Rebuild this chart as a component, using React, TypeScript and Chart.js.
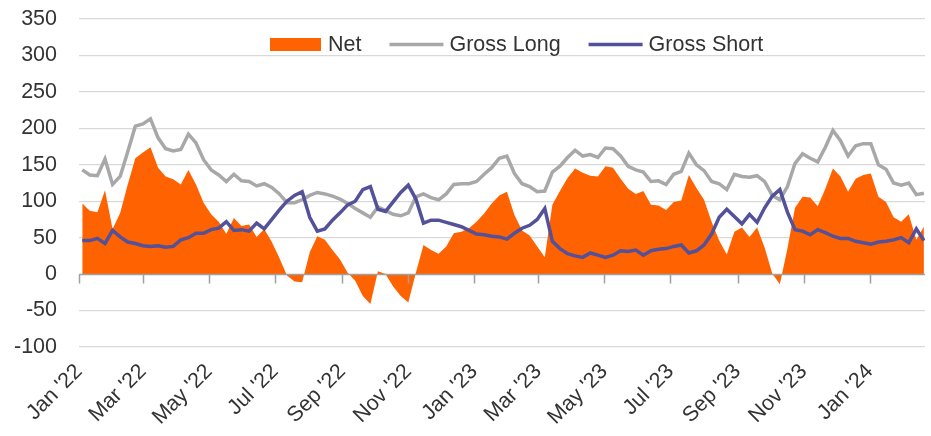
import { useEffect, useRef } from "react";
import { Chart, registerables } from "chart.js";

Chart.register(...registerables);

// Weekly positioning data (weekly reports, Tuesdays), 4 Jan 2022 – 20 Feb 2024
const FIRST_DAY = 3; // days after 1 Jan 2022 of the first weekly observation (4 Jan 2022)
const X_MAX_DAY = 781;

const grossLong: number[] = [
  143, 136, 135, 158, 123, 134, 168, 203, 206, 213, 187, 172, 169, 171, 192, 180, 157, 143, 136, 127,
  137, 128, 127, 121, 124, 119, 110, 98, 98, 102, 108, 112, 110, 107, 103, 97, 90, 84, 78, 92,
  87, 82, 80, 84, 106, 110, 105, 102, 110, 123, 124, 124, 127, 137, 146, 159, 162, 138, 124, 120,
  113, 114, 140, 148, 160, 170, 162, 164, 160, 173, 172, 162, 148, 143, 140, 127, 128, 123, 137, 141,
  166, 150, 142, 127, 124, 116, 137, 134, 133, 135, 127, 108, 102, 120, 152, 165, 159, 154, 174, 197,
  183, 162, 176, 179, 179, 150, 144, 125, 122, 125, 109, 111,
];

const grossShort: number[] = [
  46, 46, 49, 42, 60, 51, 44, 42, 39, 38, 39, 37, 38, 47, 50, 56, 56, 61, 63, 72,
  60, 61, 59, 70, 62, 75, 88, 100, 108, 113, 78, 59, 62, 74, 84, 95, 100, 116, 120, 89,
  86, 99, 112, 122, 103, 70, 74, 74, 71, 68, 65, 60, 55, 54, 52, 51, 48, 56, 63, 67,
  75, 90, 45, 35, 28, 25, 23, 29, 26, 23, 26, 32, 31, 33, 26, 32, 34, 35, 38, 40,
  29, 32, 40, 55, 78, 89, 79, 69, 82, 71, 91, 107, 116, 85, 61, 59, 54, 61, 57, 52,
  49, 49, 45, 43, 41, 44, 45, 47, 50, 43, 62, 46,
];

const net: number[] = [
  97, 87, 85, 115, 62, 84, 123, 159, 167, 174, 146, 134, 130, 123, 143, 123, 98, 82, 72, 55,
  77, 66, 68, 51, 62, 44, 22, -2, -10, -11, 30, 52, 47, 33, 20, 2, -9, -30, -41, 4,
  0, -17, -30, -39, 2, 40, 33, 28, 38, 56, 58, 63, 72, 83, 97, 108, 113, 81, 60, 53,
  38, 23, 95, 114, 132, 145, 139, 135, 134, 148, 146, 131, 117, 110, 114, 95, 94, 88, 99, 101,
  136, 118, 102, 72, 46, 27, 58, 64, 51, 64, 36, 1, -14, 35, 91, 106, 105, 93, 117, 145,
  134, 113, 131, 136, 138, 106, 99, 78, 72, 82, 47, 65,
];

// x-axis ticks: first day of every other month (days after 1 Jan 2022)
const tickDays: number[] = [0, 59, 120, 181, 243, 304, 365, 424, 485, 546, 608, 669, 730];
const tickLabels: string[] = [
  "Jan '22", "Mar '22", "May '22", "Jul '22", "Sep '22", "Nov '22",
  "Jan '23", "Mar '23", "May '23", "Jul '23", "Sep '23", "Nov '23", "Jan '24",
];

const yTickMin = -100;
const yTickMax = 350;
const yTickStep = 50;

const ORANGE = "#FF6200";
const GREY = "#A8A8A8";
const INDIGO = "#525199";
const TEXT = "#333333";
const FONT = "'Liberation Sans', Arial, sans-serif";
const FONT_SIZE = 21.5;

const weekDays = grossLong.map((_, i) => FIRST_DAY + 7 * i);
const toPoints = (vals: number[]) => vals.map((v, i) => ({ x: weekDays[i], y: v }));

const legendItems = [
  { label: "Net", color: ORANGE, kind: "box" },
  { label: "Gross Long", color: GREY, kind: "line" },
  { label: "Gross Short", color: INDIGO, kind: "line" },
];

const zeroAxisPlugin = {
  id: "zeroAxis",
  afterDatasetDraw(chart: any, args: any) {
    if (args.index !== 0) return;
    const { ctx, chartArea, scales } = chart;
    const y0 = Math.round(scales.y.getPixelForValue(0)) + 0.5;
    ctx.save();
    ctx.strokeStyle = "#A0A0A0";
    ctx.lineWidth = 1.5;
    ctx.beginPath();
    ctx.moveTo(chartArea.left, y0);
    ctx.lineTo(chartArea.right, y0);
    tickDays.forEach((d) => {
      const x = Math.round(scales.x.getPixelForValue(d)) + 0.5;
      ctx.moveTo(x, y0);
      ctx.lineTo(x, y0 + 9);
    });
    ctx.stroke();
    ctx.restore();
  },
};

const legendPlugin = {
  id: "customLegend",
  afterDraw(chart: any) {
    const ctx = chart.ctx;
    ctx.save();
    ctx.font = `${FONT_SIZE}px ${FONT}`;
    ctx.textBaseline = "middle";
    ctx.textAlign = "left";
    const y = 44.5;
    let x = 270;
    legendItems.forEach((item) => {
      if (item.kind === "box") {
        ctx.fillStyle = item.color;
        ctx.fillRect(x, y - 6.5, 51, 13);
        x += 51 + 7;
      } else {
        ctx.strokeStyle = item.color;
        ctx.lineWidth = 3.5;
        ctx.beginPath();
        ctx.moveTo(x, y);
        ctx.lineTo(x + 54, y);
        ctx.stroke();
        x += 54 + 6;
      }
      ctx.fillStyle = TEXT;
      ctx.fillText(item.label, x, y + 1);
      x += ctx.measureText(item.label).width + 28;
    });
    ctx.restore();
  },
};

export default function App() {
  const canvasRef = useRef<HTMLCanvasElement | null>(null);

  useEffect(() => {
    document.body.style.margin = "0";
    const canvas = canvasRef.current;
    if (!canvas) return;
    const chart = new Chart(canvas, {
      type: "line",
      data: {
        datasets: [
          {
            label: "Net",
            data: toPoints(net),
            fill: "origin",
            backgroundColor: ORANGE,
            borderColor: "rgba(0,0,0,0)",
            borderWidth: 0,
            pointRadius: 0,
            tension: 0,
            order: 3,
          },
          {
            label: "Gross Long",
            data: toPoints(grossLong),
            fill: false,
            borderColor: GREY,
            borderWidth: 3.5,
            pointRadius: 0,
            tension: 0,
            order: 2,
          },
          {
            label: "Gross Short",
            data: toPoints(grossShort),
            fill: false,
            borderColor: INDIGO,
            borderWidth: 3.5,
            pointRadius: 0,
            tension: 0,
            order: 1,
          },
        ],
      },
      options: {
        responsive: false,
        animation: false,
        events: [],
        layout: { padding: { top: 19, right: 6, left: 0, bottom: 0 } },
        plugins: {
          legend: { display: false },
          tooltip: { enabled: false },
        },
        scales: {
          x: {
            type: "linear",
            min: 0,
            max: X_MAX_DAY,
            afterBuildTicks: (scale: any) => {
              scale.ticks = tickDays.map((v) => ({ value: v }));
            },
            afterFit: (scale: any) => {
              scale.height = 89;
            },
            ticks: {
              autoSkip: false,
              maxRotation: 45,
              minRotation: 45,
              padding: 4,
              color: TEXT,
              font: { family: FONT, size: FONT_SIZE },
              callback: (_v: any, i: number) => tickLabels[i],
            },
            grid: { display: false },
            border: { display: false },
          },
          y: {
            min: yTickMin,
            max: yTickMax,
            afterFit: (scale: any) => {
              scale.width = 79;
            },
            ticks: {
              stepSize: yTickStep,
              padding: 0,
              color: TEXT,
              font: { family: FONT, size: FONT_SIZE },
            },
            grid: {
              color: (c: any) => (c.tick && c.tick.value === 0 ? "rgba(0,0,0,0)" : "#D9D9D9"),
              lineWidth: 1.2,
              drawTicks: true,
              tickLength: 22,
              tickColor: "rgba(0,0,0,0)",
            },
            border: { display: false },
          },
        },
      },
      plugins: [zeroAxisPlugin, legendPlugin],
    });
    return () => chart.destroy();
  }, []);

  return (
    <canvas
      ref={canvasRef}
      width={931}
      height={436}
      style={{ display: "block", width: 931, height: 436 }}
    />
  );
}
